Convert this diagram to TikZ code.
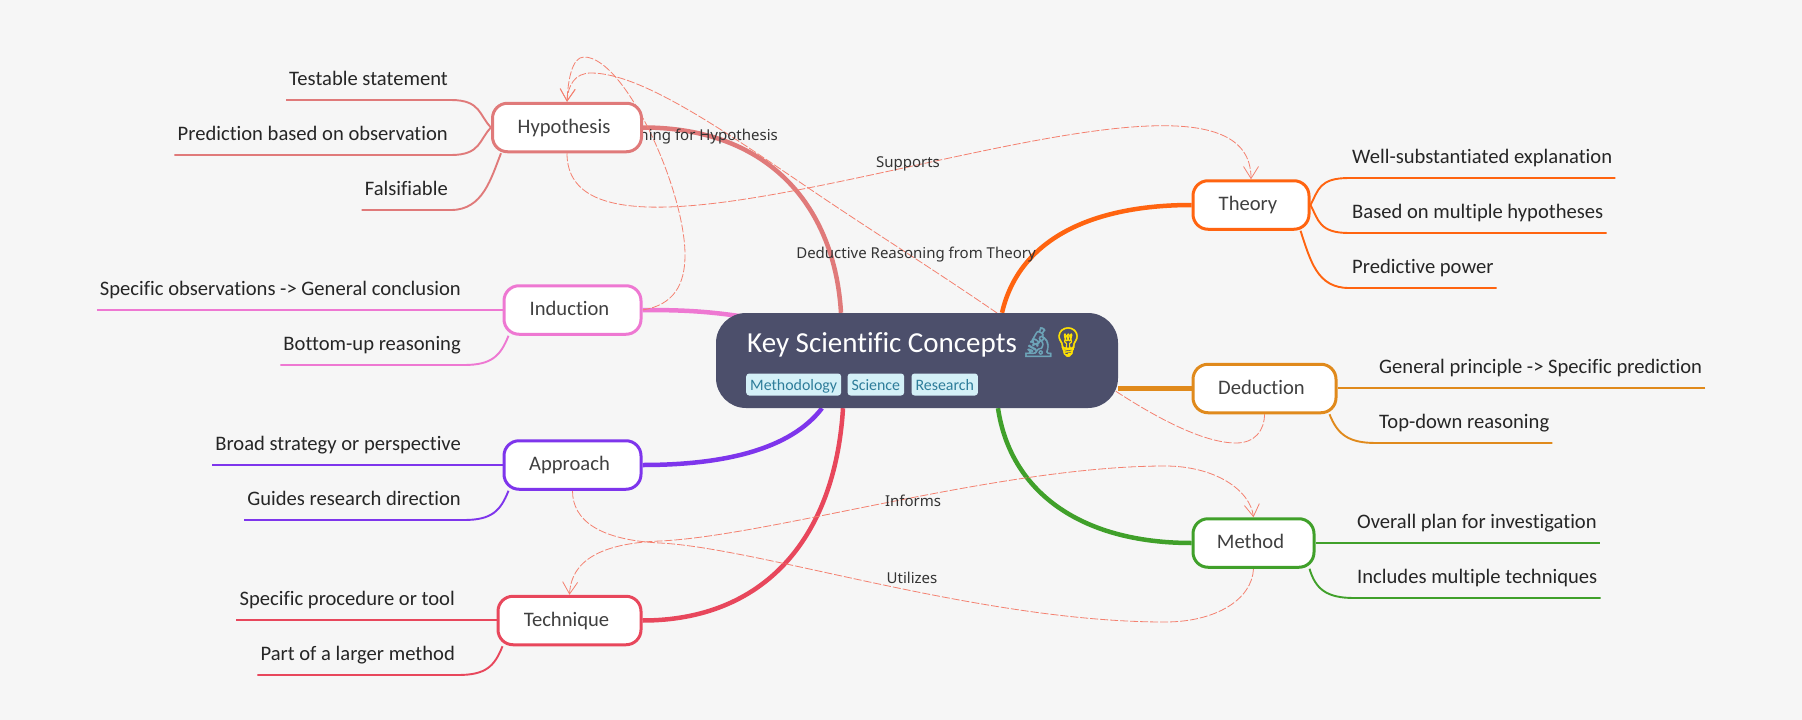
\documentclass[tikz,border=0pt]{standalone}
\usepackage{fontspec}
\setmainfont[Ligatures=NoCommon]{Carlito}
\newfontfamily\labelfont{Noto Sans}
\newfontfamily\emojifont[FakeBold=1.5]{Noto Emoji}
\usetikzlibrary{positioning,arrows.meta}
\pgfdeclarelayer{bg}
\pgfsetlayers{bg,main}
\definecolor{pagec}{HTML}{F6F6F6}
\definecolor{rootc}{HTML}{4C4F6B}
\definecolor{linkc}{HTML}{F4806F}
\definecolor{tagc}{HTML}{D4F0F7}
\definecolor{tagtext}{HTML}{2E7D9A}
\definecolor{hypoc}{HTML}{E07A7A}
\definecolor{inducc}{HTML}{EE78D2}
\definecolor{apprc}{HTML}{7E35EC}
\definecolor{techc}{HTML}{E8475C}
\definecolor{theoc}{HTML}{FF6410}
\definecolor{deducc}{HTML}{E08A1C}
\definecolor{methc}{HTML}{40A02A}
\tikzset{
  topic/.style={draw=#1,fill=white,line width=3pt,rounded corners=15pt,minimum height=48.5pt,
    text=black!75,text height=14.5pt,text depth=3.5pt,font=\fontsize{20.6}{24}\selectfont,
    execute at end node=\kern6pt},
  leaf/.style={inner xsep=3pt,inner ysep=0pt,text height=15pt,text depth=14pt,
    text=black!85,font=\fontsize{20.6}{24}\selectfont},
  tagbox/.style={fill=tagc,rounded corners=3pt,text=tagtext,inner xsep=4pt,inner ysep=0pt,
    minimum height=22pt,text height=15pt,text depth=3pt,font=\fontsize{15.9}{20}\selectfont},
  branch/.style={draw=#1,line width=4.5pt},
  twig/.style={draw=#1,line width=1.9pt},
  link/.style={draw=linkc,line width=0.8pt,dash pattern=on 8pt off 2pt},
  linklabel/.style={text=black!80,inner sep=0pt,font=\labelfont\fontsize{15}{17}\selectfont},
  barb/.tip={Straight Barb[length=12pt,width=15pt,line width=0.8pt]}
}
\begin{document}
\begin{tikzpicture}[x=1pt,y=-1pt]
  \useasboundingbox (0,0) rectangle (1802,720);
  % centre
  \node[fill=rootc,rounded corners=30pt,minimum width=402pt,minimum height=95pt,inner sep=0pt] (Root) at (917,360.5) {};
  \node[anchor=base west,inner sep=0pt,text=white,font=\fontsize{29}{32}\selectfont] (Title) at (747,352)
    {Key Scientific Concepts\kern3pt{\emojifont\textcolor{tagtext!70}{🔬}\kern-7pt\textcolor{yellow!85!orange}{💡}}};
  \node[tagbox,anchor=west] (tagMethodology) at (746,384.5) {Methodology};
  \node[tagbox,right=6pt of tagMethodology] (tagScience) {Science};
  \node[tagbox,right=7pt of tagScience] (tagResearch) {Research};
  % topics
  \node[topic=hypoc,minimum width=149pt] (Hypothesis) at (567,127.5) {Hypothesis};
  \node[topic=inducc,minimum width=137pt] (Induction) at (572.5,310) {Induction};
  \node[topic=apprc,minimum width=137pt] (Approach) at (572.5,465) {Approach};
  \node[topic=techc,minimum width=143pt] (Technique) at (569.5,620.5) {Technique};
  \node[topic=theoc,minimum width=116pt] (Theory) at (1251,205) {Theory};
  \node[topic=deducc,minimum width=143pt] (Deduction) at (1264.5,388.5) {Deduction};
  \node[topic=methc,minimum width=121pt] (Method) at (1253.5,543) {Method};
  % leaves
  \node[leaf,anchor=south east] (leafTest) at (451,100) {Testable statement};
  \node[leaf,anchor=south east] (leafPred) at (451,155) {Prediction based on observation};
  \node[leaf,anchor=south east] (leafFals) at (451,210) {Falsifiable};
  \node[leaf,anchor=south east] (leafSpec) at (464,310) {Specific observations -> General conclusion};
  \node[leaf,anchor=south east] (leafBott) at (464,365) {Bottom-up reasoning};
  \node[leaf,anchor=south east] (leafBroad) at (464,465) {Broad strategy or perspective};
  \node[leaf,anchor=south east] (leafGuide) at (464,520) {Guides research direction};
  \node[leaf,anchor=south east] (leafProc) at (458,620) {Specific procedure or tool};
  \node[leaf,anchor=south east] (leafPart) at (458,675) {Part of a larger method};
  \node[leaf,anchor=south west] (leafWell) at (1349,178) {Well-substantiated explanation};
  \node[leaf,anchor=south west] (leafBased) at (1349,233) {Based on multiple hypotheses};
  \node[leaf,anchor=south west] (leafPower) at (1349,288) {Predictive power};
  \node[leaf,anchor=south west] (leafGen) at (1376,388) {General principle -> Specific prediction};
  \node[leaf,anchor=south west] (leafTop) at (1376,443) {Top-down reasoning};
  \node[leaf,anchor=south west] (leafPlan) at (1354,543) {Overall plan for investigation};
  \node[leaf,anchor=south west] (leafIncl) at (1354,598) {Includes multiple techniques};
  \begin{pgfonlayer}{bg}
    \fill[pagec] (0,0) rectangle (1802,720);
    % main branches
    \draw[branch=hypoc] (Hypothesis.east) .. controls +(129,0) and (835,210) .. ([xshift=-76pt]Root.north);
    \draw[branch=inducc] (Induction.east) .. controls +(40,0) and (710,311) .. ([xshift=-160pt,yshift=-6pt]Root.north);
    \draw[branch=apprc] (Approach.east) .. controls +(80,0) and (790,450) .. ([xshift=-95pt]Root.south);
    \draw[branch=techc] (Technique.east) .. controls +(120,0) and (835,540) .. ([xshift=-74pt]Root.south);
    \draw[branch=theoc] (Theory.west) .. controls +(-93,0) and (1020,235) .. ([xshift=85pt]Root.north);
    \draw[branch=deducc] (Deduction.west) -- (Root.east |- Deduction.west);
    \draw[branch=methc] (Method.west) .. controls +(-113,0) and (1010,490) .. ([xshift=81pt]Root.south);
    % twigs
    \draw[twig=hypoc] (leafTest.south west) -- (leafTest.south east) .. controls +(30,0) and +(-12,-12) .. (Hypothesis.west);
    \draw[twig=hypoc] (leafPred.south west) -- (leafPred.south east) .. controls +(30,0) and +(-12,12) .. (Hypothesis.west);
    \draw[twig=hypoc] (leafFals.south west) -- (leafFals.south east) .. controls +(32,0) and +(-10,25) .. ([xshift=10pt]Hypothesis.south west);
    \draw[twig=inducc] (leafSpec.south west) -- (Induction.west);
    \draw[twig=inducc] (leafBott.south west) -- (leafBott.south east) .. controls +(28,0) and +(-8,20) .. ([xshift=6pt]Induction.south west);
    \draw[twig=apprc] (leafBroad.south west) -- (Approach.west);
    \draw[twig=apprc] (leafGuide.south west) -- (leafGuide.south east) .. controls +(28,0) and +(-8,20) .. ([xshift=6pt]Approach.south west);
    \draw[twig=techc] (leafProc.south west) -- (Technique.west |- leafProc.south);
    \draw[twig=techc] (leafPart.south west) -- (leafPart.south east) .. controls +(28,0) and +(-8,20) .. ([xshift=6pt]Technique.south west);
    \draw[twig=theoc] (leafWell.south east) -- (leafWell.south west) .. controls +(-30,0) and +(8,-15) .. (Theory.east);
    \draw[twig=theoc] (leafBased.south east) -- (leafBased.south west) .. controls +(-30,0) and +(8,15) .. (Theory.east);
    \draw[twig=theoc] (leafPower.south east) -- (leafPower.south west) .. controls +(-32,0) and +(10,30) .. ([xshift=-10pt]Theory.south east);
    \draw[twig=deducc] (leafGen.south east) -- (Deduction.east |- leafGen.south);
    \draw[twig=deducc] (leafTop.south east) -- (leafTop.south west) .. controls +(-28,0) and +(8,20) .. ([xshift=-8pt]Deduction.south east);
    \draw[twig=methc] (leafPlan.south east) -- (Method.east |- leafPlan.south);
    \draw[twig=methc] (leafIncl.south east) -- (leafIncl.south west) .. controls +(-28,0) and +(6,20) .. ([xshift=-6pt]Method.south east);
    % cross links
    \draw[link,-{barb}] (Hypothesis.south) .. controls +(0,175) and (1251,6) .. (Theory.north);
    \draw[link,{barb}-{barb}] (Technique.north) .. controls +(2,-39) and (610,543) .. (660,541)
      .. controls (770,536) and (1000,466) .. (1165,466) .. controls (1215,466) and (1250,490) .. (Method.north);
    \draw[link] (Approach.south) .. controls +(0,30) and (600,540) .. (660,543)
      .. controls (760,548) and (980,622) .. (1165,622) .. controls (1215,622) and (1252,600) .. (Method.south);
    \draw[link,-{barb}] (Deduction.south) .. controls +(0,16) and (1255,443) .. (1236,443)
      .. controls (1205,443) and (1160,420) .. (1117,392) .. controls (1070,360) and (1040,341) .. (997,313)
      .. controls (930,267) and (870,230) .. (804,185) .. controls (720,128) and (640,73) .. (591,73)
      .. controls (575,73) and (568,85) .. (Hypothesis.north);
    \draw[link,-{barb}] (Induction.east) .. controls +(31,-5) and (685,285) .. (685,255)
      .. controls (685,190) and (625,57) .. (584,57) .. controls (572,57) and (568,80) .. (Hypothesis.north);
    \node[linklabel] (lblSupports) at (908,164) {Supports};
    \node[linklabel] (lblDeductive) at (916,254.5) {Deductive Reasoning from Theory};
    \node[linklabel,anchor=east] (lblInductive) at (778,137) {ning for Hypothesis};
    \node[linklabel] (lblInforms) at (913,501) {Informs};
    \node[linklabel] (lblUtilizes) at (912,578) {Utilizes};
  \end{pgfonlayer}
\end{tikzpicture}
\end{document}
